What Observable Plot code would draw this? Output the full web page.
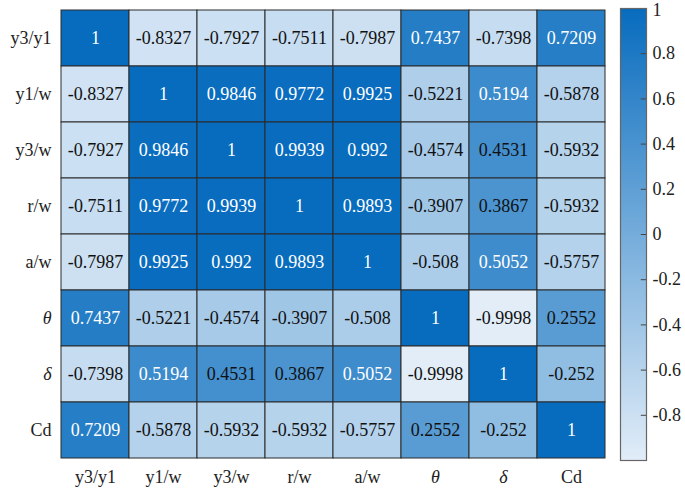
<!DOCTYPE html>
<html>
<head>
<meta charset="utf-8">
<script src="https://cdn.jsdelivr.net/npm/d3@7"></script>
<script src="https://cdn.jsdelivr.net/npm/@observablehq/plot@0.6"></script>
<style>
  html, body { margin: 0; padding: 0; background: #fff; }
  #wrap { position: relative; width: 685px; height: 493px; }
  #wrap svg { position: absolute; top: 0; }
</style>
</head>
<body>
<div id="wrap"></div>
<script>
const labels = ["y3/y1", "y1/w", "y3/w", "r/w", "a/w", "θ", "δ", "Cd"];

const row_y3y1 = [1, -0.8327, -0.7927, -0.7511, -0.7987, 0.7437, -0.7398, 0.7209];
const row_y1w  = [-0.8327, 1, 0.9846, 0.9772, 0.9925, -0.5221, 0.5194, -0.5878];
const row_y3w  = [-0.7927, 0.9846, 1, 0.9939, 0.992, -0.4574, 0.4531, -0.5932];
const row_rw   = [-0.7511, 0.9772, 0.9939, 1, 0.9893, -0.3907, 0.3867, -0.5932];
const row_aw   = [-0.7987, 0.9925, 0.992, 0.9893, 1, -0.508, 0.5052, -0.5757];
const row_theta= [0.7437, -0.5221, -0.4574, -0.3907, -0.508, 1, -0.9998, 0.2552];
const row_delta= [-0.7398, 0.5194, 0.4531, 0.3867, 0.5052, -0.9998, 1, -0.252];
const row_cd   = [0.7209, -0.5878, -0.5932, -0.5932, -0.5757, 0.2552, -0.252, 1];

const rows = [row_y3y1, row_y1w, row_y3w, row_rw, row_aw, row_theta, row_delta, row_cd];
const colorbarTicks = [-0.8, -0.6, -0.4, -0.2, 0, 0.2, 0.4, 0.6, 0.8, 1];

const data = [];
rows.forEach((r, i) => r.forEach((v, j) => data.push({row: labels[i], col: labels[j], value: v})));

const light = "rgb(226,237,248)";
const dark = "rgb(8,108,190)";
const colorOpt = {type: "linear", domain: [-1, 1], range: [light, dark], interpolate: "rgb"};
const font = {fontFamily: "'Liberation Serif', 'DejaVu Serif', serif", fontSize: "18px", background: "transparent", overflow: "visible"};

const main = Plot.plot({
  width: 685, height: 493,
  marginLeft: 58, marginRight: 77, marginTop: 8, marginBottom: 33,
  style: font,
  x: {domain: labels, padding: 0, label: null, tickSize: 0, tickPadding: 10},
  y: {domain: labels, padding: 0, label: null, tickSize: 0, tickPadding: 7},
  color: colorOpt,
  marks: [
    Plot.cell(data, {x: "col", y: "row", fill: "value", stroke: "#2a2a2a", strokeWidth: 1}),
    Plot.text(data.filter(d => d.value > 0.5), {x: "col", y: "row", text: d => String(d.value), fill: "white", fontSize: 18}),
    Plot.text(data.filter(d => d.value <= 0.5), {x: "col", y: "row", text: d => String(d.value), fill: "#111", fontSize: 18})
  ]
});
main.style.left = "0px";

d3.select(main).selectAll("g[aria-label$='tick label'] text").each(function() {
  const t = d3.select(this).text();
  if (t === "θ" || t === "δ") d3.select(this).attr("font-style", "italic");
});
d3.select(main).selectAll("g[aria-label$='tick label']").attr("fill", "#222");

const bar = Plot.plot({
  width: 85, height: 493,
  marginLeft: 20, marginRight: 39, marginTop: 8, marginBottom: 33,
  style: font,
  x: {domain: [0, 1], axis: null},
  y: {domain: [-1, 1], axis: null},
  color: colorOpt,
  marks: [
    Plot.raster({x1: 0, x2: 1, y1: -1, y2: 1, width: 2, height: 300, fill: (x, y) => y, imageRendering: "auto"}),
    Plot.ruleY(colorbarTicks, {x1: 0.8, x2: 1, stroke: "#444"}),
    Plot.axisY(colorbarTicks, {anchor: "right", tickSize: 0, tickPadding: 6, tickFormat: d => String(d), fill: "#222", fontSize: 18}),
    Plot.frame({stroke: "#666", strokeWidth: 1.2})
  ]
});
bar.style.left = "600px";

d3.select(bar).selectAll("g[aria-label='y-axis tick label'] text").each(function() {
  if (d3.select(this).text() === "1") {
    const tr = d3.select(this).attr("transform") || "";
    d3.select(this).attr("transform", tr + " translate(0,2)");
  }
});

document.getElementById("wrap").append(main, bar);
</script>
</body>
</html>
